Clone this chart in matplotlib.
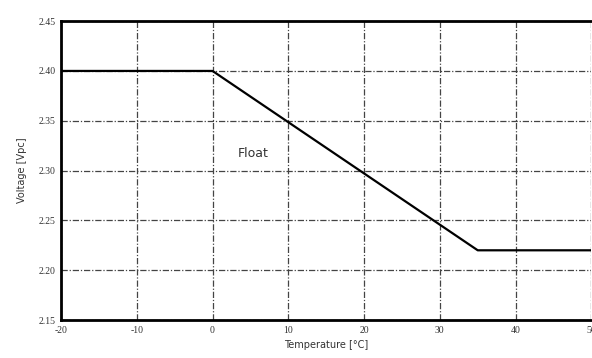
import numpy as np
from matplotlib import pyplot as plt

# Float voltage vs temperature
temps = [-20, 0, 35, 50]
volts = [2.40, 2.40, 2.22, 2.22]

xticks = [-20, -10, 0, 10, 20, 30, 40, 50]
yticks = [2.15, 2.20, 2.25, 2.30, 2.35, 2.40, 2.45]

fig = plt.figure(figsize=(5.92, 3.58), dpi=100)
ax = fig.add_axes([0.103, 0.106, 0.896, 0.835])

ax.plot(temps, volts, color='black', linewidth=1.6)
ax.set_xlim(-20, 50)
ax.set_ylim(2.15, 2.45)
ax.set_xticks(xticks)
ax.set_yticks(yticks)
ax.set_xticklabels([str(t) for t in xticks], family='Liberation Serif', fontsize=7, color='#333333')
ax.set_yticklabels(['%.2f' % v for v in yticks], family='Liberation Serif', fontsize=7, color='#333333')
ax.tick_params(length=0, pad=4)
ax.grid(True, color='#444444', linestyle=(0, (5, 1.5, 1, 1.5)), linewidth=0.9)
for s in ax.spines.values():
    s.set_linewidth(2)
    s.set_color('black')
ax.spines['right'].set_visible(False)  # cut off in the scan

ax.text(5.4, 2.317, 'Float', fontsize=9, color='#333333', ha='center', va='center')
ax.set_xlabel('Temperature [°C]', fontsize=7, color='#333333', labelpad=4)
ax.set_ylabel('Voltage [Vpc]', fontsize=7, color='#333333', labelpad=8)

plt.savefig('out.png', dpi=100)
